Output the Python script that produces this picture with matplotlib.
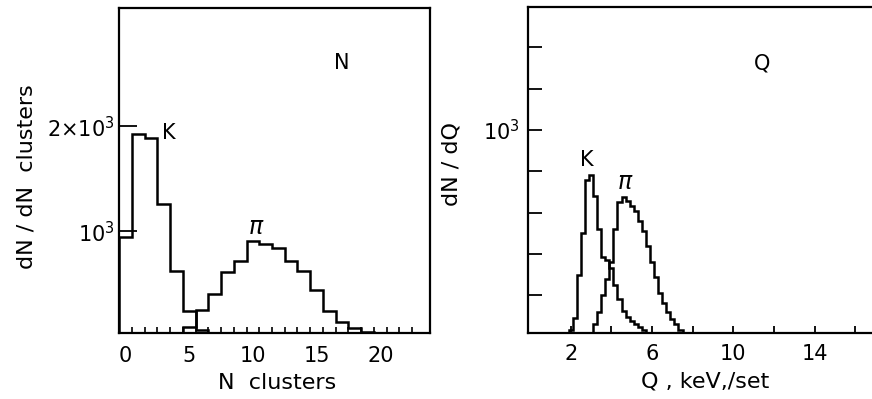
import matplotlib.pyplot as plt
import numpy as np

# N clusters histograms (bins centred on integers)
n_edges = np.arange(-0.5, 22.5, 1.0)
n_kaon = [943, 1921, 1883, 1254, 622, 241, 60, 0, 0, 0, 0,
          0, 0, 0, 0, 0, 0, 0, 0, 0, 0, 0]
n_pion = [0, 0, 0, 0, 20, 90, 245, 406, 615, 720, 908,
          876, 835, 717, 622, 438, 238, 136, 80, 35, 10, 0]

# Q histograms, keV per set, 0.2 keV bins
q_edges = np.round(np.linspace(1.9, 7.7, 30), 2)
q_kaon = [30, 90, 300, 500, 760, 780, 680, 520, 385, 370,
          330, 250, 180, 125, 95, 75, 60, 45, 30, 15,
          0, 0, 0, 0, 0, 0, 0, 0, 0]
q_pion = [0, 0, 0, 0, 0, 15, 60, 120, 200, 280,
          360, 520, 650, 677, 655, 630, 610, 560, 510, 440,
          360, 290, 210, 160, 120, 85, 60, 30, 12]

plt.rcParams['font.family'] = 'DejaVu Sans'
plt.rcParams['mathtext.fontset'] = 'dejavusans'
fs = 15
fl = 16

fig = plt.figure(figsize=(8.72, 3.99), dpi=100)
ax1 = fig.add_axes([0.1365, 0.1654, 0.3567, 0.8145])
ax2 = fig.add_axes([0.6055, 0.1654, 0.422, 0.8170])

for ax in (ax1, ax2):
    for sp in ax.spines.values():
        sp.set_linewidth(1.6)
    ax.tick_params(direction='in', width=1.3, labelsize=fs)

# left panel: N clusters
ax1.stairs(n_kaon, n_edges, color='black', lw=1.8)
ax1.stairs(n_pion, n_edges, color='black', lw=1.8)
ax1.set_xlim(-0.5, 23.9)
ax1.set_ylim(30, 3125)
ax1.set_xticks([0, 5, 10, 15, 20])
ax1.set_xticks(np.arange(0.5, 23, 1.0), minor=True)
ax1.tick_params(axis='x', which='major', length=0, pad=9)
ax1.tick_params(axis='x', which='minor', direction='in', length=4, width=1.2)
ax1.set_yticks([1000, 2000])
ax1.set_yticklabels([r'$10^3$', r'$2{\times}10^3$'])
ax1.tick_params(axis='y', which='major', length=13, pad=3)
ax1.set_xlabel('N  clusters', fontsize=fl)
ax1.xaxis.set_label_coords(0.508, -0.154)
ax1.xaxis.label.set_va('center')
ax1.set_ylabel('dN / dN  clusters', fontsize=fl)
ax1.yaxis.set_label_coords(-0.296, 0.48)
ax1.yaxis.label.set_va('center')
ax1.text(17.0, 2600, 'N', fontsize=fs, ha='center', va='center')
ax1.text(3.4, 1933, 'K', fontsize=fs, ha='center', va='center')
ax1.text(10.3, 1038, r'$\pi$', fontsize=fs + 2, ha='center', va='center')

# right panel: Q
ax2.stairs(q_kaon, q_edges, color='black', lw=1.8)
ax2.stairs(q_pion, q_edges, color='black', lw=1.8)
ax2.set_xlim(-0.1, 18)
ax2.set_ylim(17, 1596)
ax2.set_xticks(np.arange(2, 17, 2))
ax2.set_xticklabels(['2', '', '6', '', '10', '', '14', ''])
ax2.tick_params(axis='x', length=5, pad=8)
ax2.set_yticks(np.arange(200, 1500, 200))
ax2.set_yticklabels(['', '', '', '', r'$10^3$', '', ''])
ax2.tick_params(axis='y', length=10, pad=6)
ax2.set_xlabel('Q , keV,/set', fontsize=fl)
ax2.xaxis.set_label_coords(0.481, -0.150)
ax2.xaxis.label.set_va('center')
ax2.set_ylabel('dN / dQ', fontsize=fl)
ax2.yaxis.set_label_coords(-0.207, 0.518)
ax2.yaxis.label.set_va('center')
ax2.text(11.4, 1323, 'Q', fontsize=fs, ha='center', va='center')
ax2.text(2.78, 855, 'K', fontsize=fs, ha='center', va='center')
ax2.text(4.7, 750, r'$\pi$', fontsize=fs + 2, ha='center', va='center')

fig.savefig('out.png', dpi=100)
